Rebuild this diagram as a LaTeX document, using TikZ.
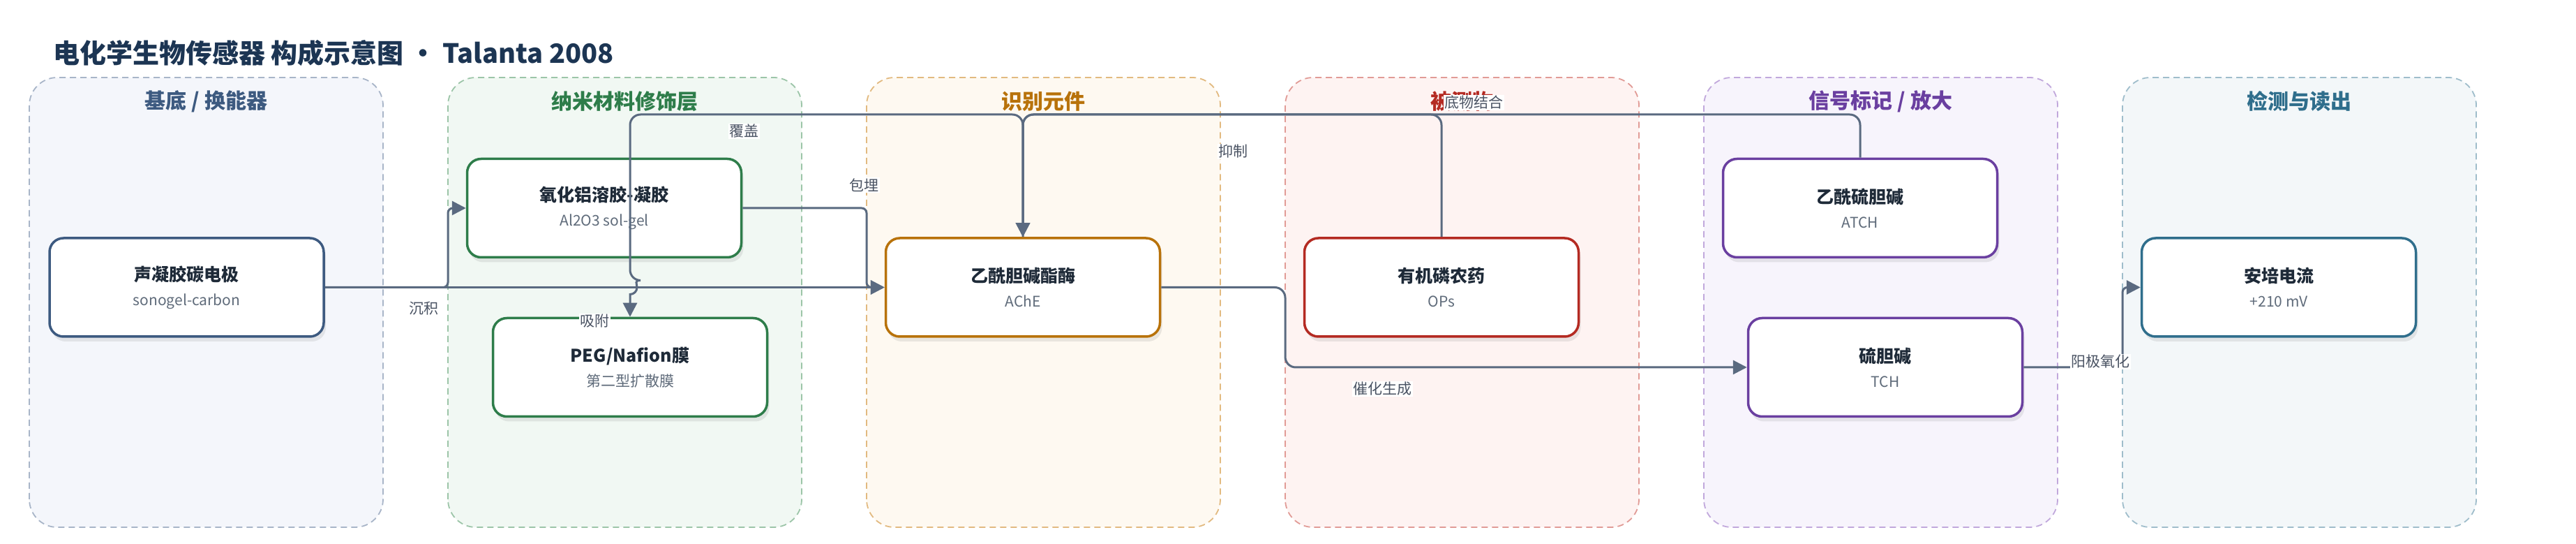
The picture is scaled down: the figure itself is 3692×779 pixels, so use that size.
\documentclass[tikz,border=0pt]{standalone}
\usepackage{fontspec}
\setmainfont{Noto Sans CJK SC}
\usetikzlibrary{arrows.meta,shadows,calc}
\definecolor{edgecol}{HTML}{5A6A80}
\definecolor{labelgray}{HTML}{4A5363}
\definecolor{titledark}{HTML}{1E2A38}
\definecolor{subgray}{HTML}{5F6B7A}
\definecolor{navy}{HTML}{1C3553}
\definecolor{lfA}{HTML}{F4F6FB}\definecolor{ldA}{HTML}{A8B5C8}
\definecolor{lfB}{HTML}{F1F8F3}\definecolor{ldB}{HTML}{9CC5A8}
\definecolor{lfC}{HTML}{FEF9F1}\definecolor{ldC}{HTML}{E2BA80}
\definecolor{lfD}{HTML}{FEF3F2}\definecolor{ldD}{HTML}{E19B96}
\definecolor{lfE}{HTML}{F7F4FC}\definecolor{ldE}{HTML}{C1A8DC}
\definecolor{lfF}{HTML}{F3F7F9}\definecolor{ldF}{HTML}{9FBDCB}
\definecolor{cA}{HTML}{3D5A80}
\definecolor{cB}{HTML}{2E7D4A}
\definecolor{cC}{HTML}{B8720A}
\definecolor{cD}{HTML}{B42A22}
\definecolor{cE}{HTML}{6A3FA0}
\definecolor{cF}{HTML}{2F6E8C}
\newcommand{\cardtext}[2]{{\fontsize{25}{35}\selectfont\bfseries\color{titledark}#1}\\#2}
\begin{document}
\begin{tikzpicture}[x=1pt,y=1pt,
  lanebox/.style={rounded corners=40pt, line width=1.8pt, dash pattern=on 9pt off 6pt},
  lanetitle/.style={font=\fontsize{30}{36}\selectfont\bfseries, inner sep=0pt},
  card/.style={rectangle, rounded corners=20pt, line width=3.5pt, fill=white,
    minimum width=393pt, minimum height=141pt, align=center, inner sep=0pt,
    font=\fontsize{21}{35}\selectfont, text=subgray,
    drop shadow={opacity=0.16, shadow xshift=3pt, shadow yshift=-7pt}},
  conn/.style={draw=edgecol, line width=3pt, rounded corners=15pt,
    -{Triangle[length=20pt,width=20pt]}},
  elabel/.style={fill=white, inner sep=1.5pt, text=labelgray, font=\fontsize{21}{25}\selectfont}]
\useasboundingbox[fill=white] (0,0) rectangle (3692,779);

% title
\node[anchor=west, inner sep=0pt, font=\fontsize{38}{44}\selectfont\bfseries, text=navy] (title) at (76,703)
  {电化学生物传感器 构成示意图 • Talanta 2008};

% lanes
\draw[lanebox, fill=lfA, draw=ldA] (42,24) rectangle ++(507,644);
\draw[lanebox, fill=lfB, draw=ldB] (642,24) rectangle ++(507,644);
\draw[lanebox, fill=lfC, draw=ldC] (1242,24) rectangle ++(507,644);
\draw[lanebox, fill=lfD, draw=ldD] (1842,24) rectangle ++(507,644);
\draw[lanebox, fill=lfE, draw=ldE] (2442,24) rectangle ++(507,644);
\draw[lanebox, fill=lfF, draw=ldF] (3042,24) rectangle ++(507,644);

\node[lanetitle, text=cA] (t1) at (295.5,634) {基底 / 换能器};
\node[lanetitle, text=cB] (t2) at (895.5,634) {纳米材料修饰层};
\node[lanetitle, text=cC] (t3) at (1495.5,634) {识别元件};
\node[lanetitle, text=cD] (t4) at (2095.5,634) {被测物};
\node[lanetitle, text=cE] (t5) at (2695.5,634) {信号标记 / 放大};
\node[lanetitle, text=cF] (t6) at (3295.5,634) {检测与读出};

% nodes
\node[card, draw=cA] (son) at (267.5,367.5) {\cardtext{声凝胶碳电极}{sonogel-carbon}};
\node[card, draw=cB] (alo) at (866,481) {\cardtext{氧化铝溶胶-凝胶}{Al2O3 sol-gel}};
\node[card, draw=cB] (peg) at (903,253) {\cardtext{PEG/Nafion膜}{第二型扩散膜}};
\node[card, draw=cC] (ache) at (1466,367.5) {\cardtext{乙酰胆碱酯酶}{AChE}};
\node[card, draw=cD] (ops) at (2066,367.5) {\cardtext{有机磷农药}{OPs}};
\node[card, draw=cE] (atch) at (2666,481) {\cardtext{乙酰硫胆碱}{ATCH}};
\node[card, draw=cE] (tch) at (2702,253) {\cardtext{硫胆碱}{TCH}};
\node[card, draw=cF] (amp) at (3266,367.5) {\cardtext{安培电流}{+210 mV}};

\coordinate (topy) at (0,615);

% connectors
\draw[conn, rounded corners=7pt] (son.east) -- (642,367.5) -- (642,481) -- (alo.west);
\draw[conn] (son.east) -- (ache.west);
\draw[conn, rounded corners=7pt] (alo.east) -- (1242,481) -- (1242,367.5) -- (ache.west);
\draw[conn] (ache.north) -- (ache.north |- topy) -- (peg.north |- topy)
  -- ($(peg.north |- son.east)+(0,10)$) [sharp corners] arc[start angle=90,end angle=-90,radius=10pt]
  -- (peg.north);
\draw[conn] (ops.north) -- (ops.north |- topy) -- (ache.north |- topy) -- (ache.north);
\draw[conn] (atch.north) -- (atch.north |- topy) -- (ache.north |- topy) -- (ache.north);
\draw[conn] (ache.east) -- (1842,367.5) -- (1842,253) -- (tch.west);
\draw[conn, rounded corners=7pt] (tch.east) -- (3042,253) -- (3042,367.5) -- (amp.west);

% labels
\node[elabel] (l1) at (607,337) {沉积};
\node[elabel] (l2) at (852,319) {吸附};
\node[elabel] (l3) at (1238,514) {包埋};
\node[elabel] (l4) at (1066,591) {覆盖};
\node[elabel] (l5) at (1767,562) {抑制};
\node[elabel] (l6) at (2112,632) {底物结合};
\node[elabel] (l7) at (1981,222) {催化生成};
\node[elabel] (l8) at (3010,261) {阳极氧化};
\end{tikzpicture}
\end{document}
